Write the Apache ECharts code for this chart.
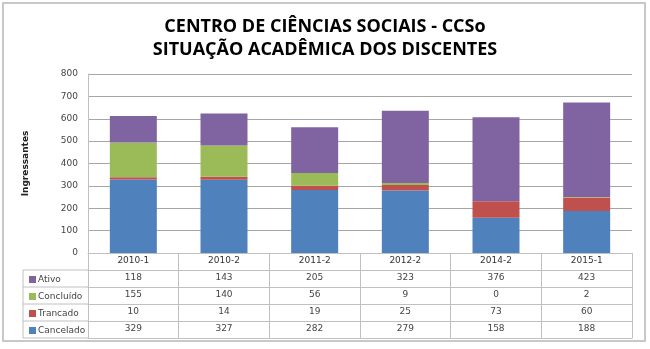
<!DOCTYPE html>
<html>
<head>
<meta charset="utf-8">
<script src="https://cdn.jsdelivr.net/npm/echarts@6/dist/echarts.min.js"></script>
<style>
  html, body { margin: 0; padding: 0; background: #fff; }
  #chart { width: 650px; height: 349px; }
</style>
</head>
<body>
<div id="chart"></div>
<script>
var semestres = ['2010-1', '2010-2', '2011-2', '2012-2', '2014-2', '2015-1'];
var cancelado = [329, 327, 282, 279, 158, 188];
var trancado = [10, 14, 19, 25, 73, 60];
var concluido = [155, 140, 56, 9, 0, 2];
var ativo = [118, 143, 205, 323, 376, 423];

var cores = {
    Ativo: '#8064A2',
    'Concluído': '#9BBB59',
    Trancado: '#C0504D',
    Cancelado: '#4F81BD'
};

// linhas da tabela, na ordem em que aparecem
var linhas = [
    {name: 'Ativo', data: ativo},
    {name: 'Concluído', data: concluido},
    {name: 'Trancado', data: trancado},
    {name: 'Cancelado', data: cancelado}
];

var rowH = 17;
var gridLeft = 88, gridRight = 18, gridTop = 74, gridBottom = 96;
var tabelaTop = 349 - gridBottom;
var corLinha = '#c0c0c0';
var fonte = 'DejaVu Sans';

var xAxes = [{
    type: 'category',
    data: semestres,
    position: 'bottom',
    axisLine: {lineStyle: {color: corLinha}},
    axisTick: {show: true, length: rowH, lineStyle: {color: corLinha}},
    axisLabel: {color: '#333', fontSize: 9, fontFamily: fonte, margin: 3}
}];
linhas.forEach(function (l, i) {
    xAxes.push({
        type: 'category',
        data: semestres,
        position: 'bottom',
        offset: rowH * (i + 1),
        axisLine: {lineStyle: {color: corLinha}},
        axisTick: {show: true, length: rowH, lineStyle: {color: corLinha}},
        axisLabel: {
            color: '#444', fontSize: 9, fontFamily: fonte, margin: 3,
            formatter: function (v, idx) { return String(l.data[idx]); }
        }
    });
});
xAxes.push({
    type: 'category',
    data: semestres,
    position: 'bottom',
    offset: rowH * 5,
    axisLine: {lineStyle: {color: corLinha}},
    axisTick: {show: false},
    axisLabel: {show: false}
});

// bordas da coluna da legenda
var graficos = [{
    type: 'rect',
    shape: {x: 3, y: 3, width: 642, height: 338},
    style: {fill: 'none', stroke: '#c8c8c8', lineWidth: 2},
    silent: true
}, {
    type: 'line',
    shape: {x1: 23, y1: tabelaTop + rowH, x2: 23, y2: tabelaTop + rowH * 5},
    style: {stroke: corLinha, lineWidth: 1}
}];
for (var k = 1; k <= 5; k++) {
    graficos.push({
        type: 'line',
        shape: {x1: 23, y1: tabelaTop + rowH * k, x2: gridLeft, y2: tabelaTop + rowH * k},
        style: {stroke: corLinha, lineWidth: 1}
    });
}

function serie(nome, dados) {
    return {
        name: nome,
        type: 'bar',
        stack: 'total',
        barWidth: 47,
        data: dados,
        itemStyle: {color: cores[nome]}
    };
}

var option = {
    animation: false,
    backgroundColor: '#fff',
    title: {
        text: 'CENTRO DE CIÊNCIAS SOCIAIS - CCSo\nSITUAÇÃO ACADÊMICA DOS DISCENTES',
        left: 'center',
        top: 10,
        textStyle: {
            fontFamily: 'Open Sans',
            fontSize: 18,
            fontWeight: 'bold',
            color: '#000',
            lineHeight: 23
        }
    },
    legend: {
        data: ['Ativo', 'Concluído', 'Trancado', 'Cancelado'],
        orient: 'vertical',
        left: 24,
        top: tabelaTop + rowH - 1,
        itemWidth: 7,
        itemHeight: 7,
        itemGap: 6,
        selectedMode: false,
        icon: 'rect',
        textStyle: {fontSize: 9, fontFamily: fonte, color: '#444', lineHeight: 11, padding: [0, 0, 0, -3]}
    },
    grid: {left: gridLeft, right: gridRight, top: gridTop, bottom: gridBottom},
    xAxis: xAxes,
    yAxis: {
        type: 'value',
        min: 0,
        max: 800,
        interval: 100,
        name: 'Ingressantes',
        nameLocation: 'middle',
        nameGap: 58,
        nameTextStyle: {fontSize: 9, fontFamily: fonte, fontWeight: 'bold', color: '#222'},
        axisLine: {show: true, lineStyle: {color: corLinha}},
        axisTick: {show: false},
        axisLabel: {color: '#444', fontSize: 9, fontFamily: fonte, margin: 10},
        splitLine: {lineStyle: {color: '#a6a6a6'}}
    },
    graphic: graficos,
    series: [
        serie('Cancelado', cancelado),
        serie('Trancado', trancado),
        serie('Concluído', concluido),
        serie('Ativo', ativo)
    ]
};

var chart = echarts.init(document.getElementById('chart'));
chart.setOption(option);
</script>
</body>
</html>
